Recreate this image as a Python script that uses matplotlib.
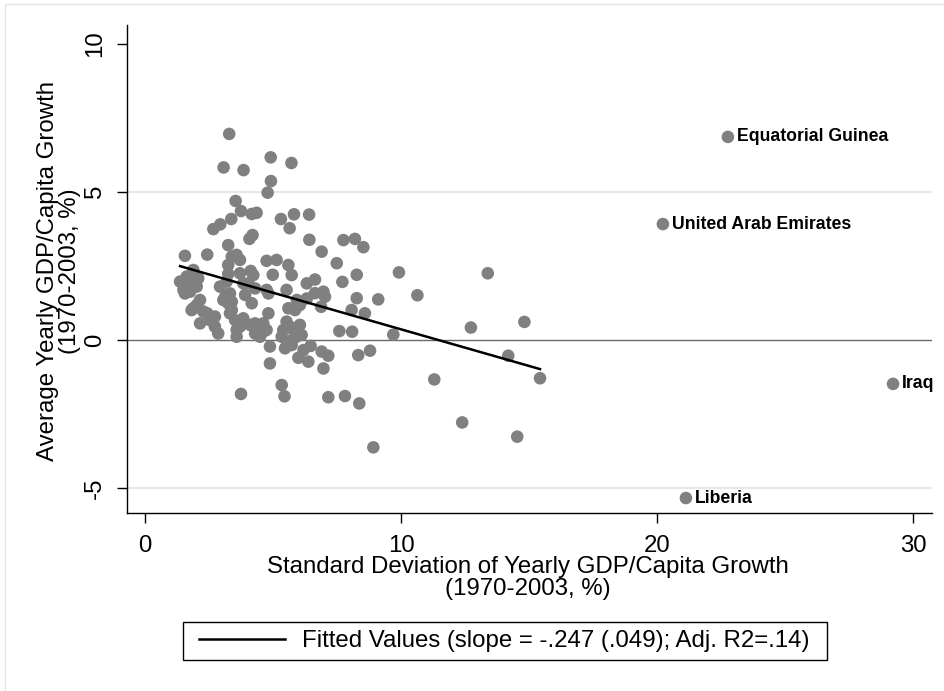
import matplotlib
matplotlib.use("Agg")
import matplotlib.pyplot as plt
from matplotlib.patches import Rectangle
from matplotlib.lines import Line2D
import numpy as np

plt.rcParams['font.family'] = ['Liberation Sans', 'DejaVu Sans']
plt.rcParams['axes.unicode_minus'] = False

# ---- data ----
sd_growth = [
    3.29, 3.07, 3.85, 4.91, 5.72, 4.92, 4.79, 3.54, 3.75, 4.17, 4.36, 3.37, 2.94, 2.67, 5.31,
    5.82, 6.41, 5.65, 4.20, 4.08, 6.42, 3.25, 1.56, 2.43, 3.39, 3.71, 3.25, 4.75, 5.14, 5.60,
    4.13, 3.25, 4.99, 5.73, 7.75, 8.20, 8.53, 6.90, 7.49, 9.92, 6.64, 7.71, 8.27, 13.39, 10.64,
    12.73, 14.82, 14.19, 15.43, 11.30, 12.39, 14.54, 8.92, 7.16, 7.81, 8.37, 9.70, 9.11, 8.27, 8.07,
    8.59, 7.59, 8.09, 8.33, 8.79, 6.32, 6.64, 6.97, 7.03, 5.86, 6.88, 6.05, 5.66, 6.12, 5.73,
    6.47, 6.90, 7.16, 5.99, 6.38, 6.97, 5.45, 5.34, 3.75, 4.88, 5.47, 4.88, 5.40, 5.53, 5.60,
    6.05, 5.93, 5.53, 4.82, 4.30, 3.84, 4.04, 3.91, 4.17, 2.93, 3.19, 3.32, 3.13, 3.06, 3.25,
    3.32, 3.52, 3.58, 3.58, 3.84, 4.30, 4.49, 4.62, 4.75, 4.82, 6.19, 1.37, 1.63, 1.89, 2.08,
    1.50, 1.76, 1.89, 2.15, 1.82, 2.28, 2.15, 2.54, 2.73, 2.86, 2.02, 3.58, 2.43, 3.39, 3.39,
    3.71, 4.10, 4.30, 3.71, 4.23, 4.75, 4.62, 5.34, 5.73, 5.73, 5.92, 6.32, 1.76, 2.02, 1.56,
    1.89, 2.73,
]
avg_growth = [
    6.95, 5.82, 5.73, 6.16, 5.97, 5.36, 4.97, 4.69, 4.35, 4.25, 4.29, 4.08, 3.90, 3.74, 4.08,
    4.24, 4.23, 3.77, 3.54, 3.41, 3.38, 3.20, 2.84, 2.88, 2.81, 2.70, 2.53, 2.67, 2.70, 2.53,
    2.33, 2.23, 2.20, 2.19, 3.37, 3.41, 3.13, 2.98, 2.59, 2.28, 2.04, 1.96, 2.20, 2.25, 1.51,
    0.42, 0.61, -0.53, -1.29, -1.33, -2.78, -3.26, -3.62, -1.93, -1.89, -2.14, 0.18, 1.37, 1.41, 1.01,
    0.90, 0.30, 0.28, -0.51, -0.36, 1.40, 1.58, 1.63, 1.46, 1.01, 1.12, 0.51, 0.45, 0.17, -0.17,
    -0.20, -0.39, -0.53, -0.60, -0.73, -0.96, -1.90, -1.52, -1.82, -0.79, -0.28, -0.22, 0.34, 0.62, 1.07,
    1.18, 1.35, 1.69, 1.57, 1.74, 1.91, 1.91, 1.52, 1.24, 1.80, 1.97, 1.57, 1.46, 1.35, 1.24,
    0.90, 0.67, 0.34, 0.11, 0.73, 0.56, 0.11, 0.56, 0.34, 0.90, -0.34, 1.97, 2.14, 2.36, 2.08,
    1.69, 1.63, 1.86, 1.35, 1.01, 0.96, 0.56, 0.67, 0.79, 0.22, 1.18, 2.87, 0.90, 1.29, 1.01,
    0.45, 0.51, 0.22, 2.25, 2.19, 1.69, 0.28, 0.11, 0.39, 0.00, 0.11, 1.91, 2.02, 1.80, 1.57,
    1.07, 0.45,
]
outlier_names = ["Equatorial Guinea", "United Arab Emirates", "Iraq", "Liberia"]
outlier_sd = [22.77, 20.23, 29.22, 21.13]
outlier_avg = [6.85, 3.91, -1.48, -5.33]

fit_slope = -0.247
fit_intercept = 2.83

x_ticks = [0, 10, 20, 30]
y_ticks = [-5, 0, 5, 10]
x_title = "Standard Deviation of Yearly GDP/Capita Growth\n(1970-2003, %)"
y_title = "Average Yearly GDP/Capita Growth\n(1970-2003, %)"
legend_label = "Fitted Values (slope = -.247 (.049); Adj. R2=.14)"

# ---- figure ----
W, H = 944, 691
fig = plt.figure(figsize=(W / 100, H / 100), dpi=100)
fig.patch.set_facecolor('white')

# faint outer graph-region border
fig.patches.append(Rectangle((5 / W, 0 - 0.05), 1.2, (H - 4) / H + 0.05,
                             transform=fig.transFigure, fill=False,
                             edgecolor='#e4e4e4', linewidth=1.0, zorder=0))

left, right, top, bottom = 127, 932, 25, 513
ax = fig.add_axes([left / W, 1 - bottom / H, (right - left) / W, (bottom - top) / H])
ax.set_xlim((left - 145) / 25.6, (right - 145) / 25.6)
ax.set_ylim((340 - bottom) / 29.65, (340 - top) / 29.65)

for s in ['top', 'right']:
    ax.spines[s].set_visible(False)
for s in ['left', 'bottom']:
    ax.spines[s].set_linewidth(1.0)
    ax.spines[s].set_color('black')

ax.axhline(5, color='#e8e8e8', lw=1.6, zorder=0)
ax.axhline(-5, color='#e8e8e8', lw=1.6, zorder=0)
ax.axhline(0, color='#6a6a6a', lw=1.0, zorder=1)

ax.scatter(sd_growth, avg_growth, s=82, color='#808080', edgecolors='none', zorder=2)
ax.scatter(outlier_sd, outlier_avg, s=82, color='#808080', edgecolors='none', zorder=2)
for nm, xv, yv in zip(outlier_names, outlier_sd, outlier_avg):
    ax.annotate(nm, (xv, yv), xytext=(6.5, 0), textcoords='offset points',
                ha='left', va='center', fontsize=12.7, fontweight='bold', color='black',
                annotation_clip=False)

fx = np.array([min(sd_growth), max(sd_growth)])
ax.plot(fx, fit_intercept + fit_slope * fx, color='black', lw=1.8, zorder=3)

ax.set_xticks(x_ticks)
ax.set_yticks(y_ticks)
ax.tick_params(axis='both', direction='out', length=7, width=1.0, labelsize=17.3, color='black')
ax.tick_params(axis='x', pad=9)
ax.tick_params(axis='y', pad=8)
for lab in ax.get_yticklabels():
    lab.set_rotation(90)
    lab.set_va('center')

fig.text(528 / W, 1 - 578 / H, x_title, ha='center', va='center', fontsize=17.3,
         linespacing=0.95)
fig.text(59 / W, 1 - 271 / H, y_title, ha='center', va='center', fontsize=17.3,
         rotation=90, linespacing=0.95)

# legend: box drawn at the reference position, entry centred inside it
fig.patches.append(Rectangle((183 / W, 1 - 660 / H), (827 - 183) / W, 38 / H,
                             transform=fig.transFigure, fill=False,
                             edgecolor='black', linewidth=1.0, zorder=5))
handle = Line2D([], [], color='black', lw=1.8)
leg = fig.legend([handle], [legend_label], loc='center',
                 bbox_to_anchor=(504 / W, 1 - 641 / H), fontsize=17.3,
                 frameon=False, handlelength=3.6, handletextpad=0.7, borderpad=0.3)

fig.savefig('out.png', dpi=100, facecolor='white')
